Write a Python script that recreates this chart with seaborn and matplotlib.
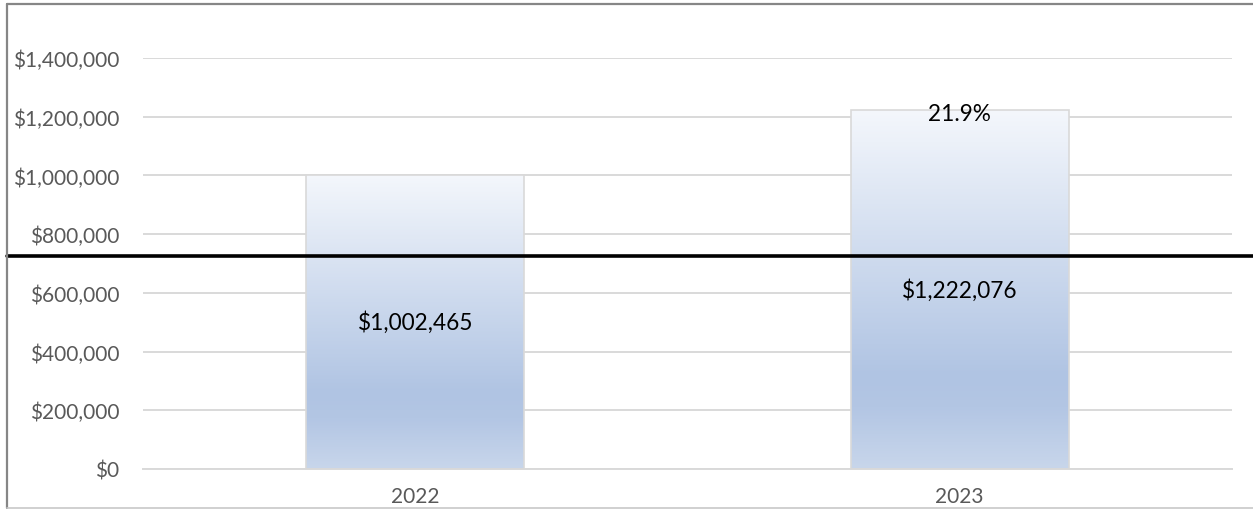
import numpy as np
import pandas as pd
import matplotlib
matplotlib.use("Agg")
import matplotlib.pyplot as plt
import seaborn as sns
from matplotlib.colors import LinearSegmentedColormap
from matplotlib.lines import Line2D
from matplotlib.ticker import FuncFormatter

# ---- data ----
years = ["2022", "2023"]
revenue = [1002465, 1222076]
target_line = 725000
yticks = [0, 200000, 400000, 600000, 800000, 1000000, 1200000, 1400000]

df = pd.DataFrame({"year": years, "revenue": revenue})
growth = (revenue[1] - revenue[0]) / revenue[0] * 100

sns.set_theme(style="white")
plt.rcParams["font.family"] = ["Lato", "DejaVu Sans"]

W, H = 1253, 510
fig = plt.figure(figsize=(W / 100, H / 100), dpi=100)
L, R, T, B = 143, 1232, 59, 470
ax = fig.add_axes([L / W, 1 - B / H, (R - L) / W, (B - T) / H])

sns.barplot(data=df, x="year", y="revenue", ax=ax, width=0.4,
            color="#B4C7E7", edgecolor="#D9D9D9", linewidth=1.2, zorder=3)

ax.set_ylim(0, 1400000)
ax.set_xlim(-0.5, 1.5)
ax.set_yticks(yticks)
ax.yaxis.set_major_formatter(FuncFormatter(lambda v, p: f"${v:,.0f}"))
ax.grid(axis="y", color="#D9D9D9", linewidth=1.4, zorder=0)
ax.grid(axis="x", visible=False)
for s in ax.spines.values():
    s.set_visible(False)
ax.spines["bottom"].set_visible(True)
ax.spines["bottom"].set_color("#D9D9D9")
ax.spines["bottom"].set_linewidth(1.4)
ax.set_xlabel("")
ax.set_ylabel("")
ax.tick_params(axis="y", length=0, pad=17, labelsize=15, labelcolor="#595959")
ax.tick_params(axis="x", length=0, pad=12, labelsize=15, labelcolor="#595959")

# gradient fill for bars
cmap = LinearSegmentedColormap.from_list(
    "excelgrad",
    [(0.0, "#F4F7FC"), (0.74, "#B0C4E3"), (0.83, "#B3C6E4"), (1.0, "#C8D6EB")])
grad = np.linspace(0, 1, 256).reshape(-1, 1)
for p in list(ax.patches):
    x0, y0 = p.get_x(), p.get_y()
    w, h = p.get_width(), p.get_height()
    im = ax.imshow(grad, cmap=cmap, aspect="auto", origin="upper",
                   extent=[x0, x0 + w, y0, y0 + h], zorder=2.5, interpolation="bicubic")
    im.set_clip_path(p)
    p.set_facecolor("none")
ax.set_xlim(-0.5, 1.5)
ax.set_ylim(0, 1400000)

# data labels
for i, v in enumerate(revenue):
    ax.text(i, v / 2, f"${v:,.0f}", ha="center", va="center",
            fontsize=16.3, color="black", zorder=5)
ax.annotate(f"{growth:.1f}%", xy=(1, revenue[1]), xytext=(0, -2),
            textcoords="offset points", ha="center", va="center",
            fontsize=16.3, color="black", zorder=5)

# black reference line across the full width
xmin = (7 - L) / (R - L)
xmax = (W - L) / (R - L)
ax.axhline(target_line, xmin=xmin, xmax=xmax, color="black",
           linewidth=2.6, clip_on=False, zorder=6)

# chart frame
fig.add_artist(Line2D([7 / W, 1], [1 - 4.5 / H, 1 - 4.5 / H], color="#868686", linewidth=1.6))
fig.add_artist(Line2D([7 / W, 7 / W], [1 - 4.5 / H, 1 - 509 / H], color="#868686", linewidth=1.6))
fig.add_artist(Line2D([7 / W, 1], [1 - 509 / H, 1 - 509 / H], color="#C8C8C8", linewidth=1.2))

fig.savefig("out.png", dpi=100)
